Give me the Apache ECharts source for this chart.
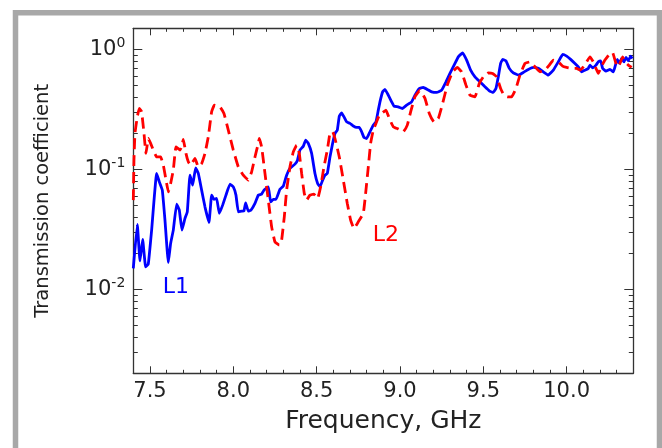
<!DOCTYPE html>
<html><head><meta charset="utf-8">
<script src="https://cdn.jsdelivr.net/npm/echarts@6/dist/echarts.min.js"></script>
<style>html,body{margin:0;padding:0;background:#fff}#c{width:662px;height:448px}</style>
</head><body><div id="c"></div>
<script>
// ---- data ----
const l1Freq = [7.400,7.424,7.440,7.456,7.474,7.490,7.510,7.540,7.556,7.574,
7.590,7.610,7.624,7.640,7.660,7.676,7.692,7.710,7.724,7.740,
7.756,7.774,7.790,7.810,7.830,7.854,7.870,7.884,7.900,7.916,
7.936,7.956,7.980,8.000,8.016,8.030,8.050,8.064,8.074,8.090,
8.106,8.130,8.150,8.170,8.184,8.210,8.224,8.240,8.256,8.280,
8.300,8.320,8.340,8.370,8.384,8.400,8.420,8.434,8.450,8.470,
8.490,8.506,8.520,8.536,8.550,8.564,8.580,8.596,8.610,8.624,
8.636,8.650,8.664,8.680,8.700,8.720,8.740,8.756,8.770,8.784,
8.800,8.820,8.840,8.856,8.870,8.880,8.896,8.910,8.930,8.950,
8.964,8.990,9.014,9.040,9.070,9.090,9.116,9.140,9.164,9.190,
9.220,9.250,9.276,9.300,9.330,9.350,9.376,9.400,9.424,9.450,
9.480,9.510,9.536,9.560,9.576,9.590,9.604,9.616,9.636,9.656,
9.680,9.710,9.740,9.770,9.800,9.830,9.860,9.890,9.920,9.950,
9.976,10.000,10.024,10.050,10.070,10.090,10.110,10.130,10.140,10.156,
10.176,10.190,10.204,10.216,10.236,10.260,10.280,10.290,10.304,10.316,
10.330,10.344,10.356,10.370,10.384,10.394];
const l1Val = [0.0150,0.0348,0.0173,0.0261,0.0154,0.0163,0.0312,0.0926,0.0788,0.0672,
0.0378,0.0167,0.0242,0.0312,0.0514,0.0458,0.0312,0.0391,0.0443,0.0896,
0.0740,0.1031,0.0926,0.0672,0.0488,0.0362,0.0611,0.0562,0.0573,0.0430,
0.0504,0.0611,0.0754,0.0716,0.0611,0.0443,0.0449,0.0452,0.0527,0.0449,
0.0458,0.0521,0.0611,0.0623,0.0672,0.0716,0.0537,0.0562,0.0562,0.0685,
0.0726,0.0896,0.1019,0.1107,0.118,0.145,0.156,0.175,0.165,0.136,
0.0926,0.0764,0.0716,0.0814,0.0896,0.0926,0.127,0.165,0.1995,0.2126,
0.278,0.296,0.274,0.249,0.242,0.230,0.224,0.224,0.206,0.185,
0.181,0.206,0.234,0.249,0.312,0.366,0.443,0.464,0.416,0.366,
0.337,0.332,0.322,0.343,0.366,0.416,0.473,0.482,0.464,0.443,
0.438,0.458,0.537,0.631,0.764,0.868,0.937,0.815,0.672,0.591,
0.537,0.488,0.452,0.438,0.473,0.591,0.764,0.826,0.804,0.695,
0.638,0.611,0.643,0.681,0.708,0.695,0.651,0.611,0.672,0.788,
0.908,0.879,0.826,0.764,0.716,0.651,0.672,0.695,0.740,0.703,
0.740,0.788,0.804,0.695,0.659,0.681,0.651,0.716,0.826,0.764,
0.841,0.788,0.858,0.804,0.879,0.841];

const l2Freq = [7.400,7.404,7.410,7.424,7.436,7.450,7.464,7.476,7.490,7.504,
7.520,7.540,7.564,7.580,7.600,7.610,7.624,7.640,7.656,7.680,
7.690,7.700,7.716,7.730,7.744,7.770,7.790,7.810,7.830,7.850,
7.870,7.886,7.920,7.944,7.970,8.000,8.030,8.060,8.090,8.110,
8.130,8.150,8.156,8.170,8.190,8.210,8.230,8.250,8.276,8.290,
8.306,8.320,8.340,8.360,8.380,8.396,8.410,8.426,8.440,8.460,
8.484,8.506,8.524,8.544,8.564,8.580,8.596,8.610,8.636,8.660,
8.684,8.704,8.724,8.750,8.780,8.796,8.810,8.824,8.840,8.856,
8.876,8.890,8.916,8.936,8.960,8.990,9.020,9.044,9.064,9.090,
9.120,9.150,9.176,9.204,9.230,9.256,9.284,9.316,9.344,9.370,
9.396,9.420,9.450,9.476,9.500,9.530,9.556,9.580,9.604,9.624,
9.644,9.670,9.696,9.720,9.750,9.780,9.810,9.840,9.870,9.896,
9.920,9.950,9.976,10.000,10.030,10.060,10.080,10.100,10.120,10.140,
10.160,10.176,10.190,10.210,10.230,10.260,10.276,10.290,10.304,10.320,
10.336,10.350,10.370,10.390];
const l2Val = [0.0555,0.120,0.200,0.274,0.322,0.302,0.200,0.136,0.181,0.165,
0.145,0.127,0.127,0.1086,0.0764,0.0651,0.0764,0.0987,0.154,0.145,
0.154,0.178,0.136,0.1157,0.1086,0.1236,0.105,0.112,0.136,0.187,
0.302,0.343,0.332,0.293,0.2126,0.145,0.105,0.0896,0.0814,0.0955,
0.127,0.165,0.181,0.154,0.0926,0.0555,0.0332,0.0249,0.0234,0.0258,
0.0403,0.0672,0.105,0.140,0.159,0.136,0.0926,0.0631,0.0555,0.0611,
0.0623,0.0573,0.0716,0.105,0.145,0.1995,0.206,0.181,0.127,0.0814,
0.0521,0.0378,0.0322,0.0366,0.0430,0.0672,0.105,0.165,0.2126,0.242,
0.2835,0.293,0.312,0.266,0.2265,0.217,0.206,0.234,0.302,0.403,
0.458,0.391,0.293,0.249,0.266,0.355,0.504,0.651,0.708,0.651,
0.504,0.416,0.403,0.521,0.591,0.638,0.631,0.591,0.473,0.416,
0.403,0.403,0.473,0.611,0.764,0.788,0.716,0.651,0.672,0.740,
0.815,0.788,0.726,0.708,0.695,0.695,0.672,0.716,0.788,0.868,
0.788,0.695,0.631,0.726,0.815,0.926,0.937,0.815,0.716,0.764,
0.868,0.788,0.740,0.708];

const xMin = 7.4, xMax = 10.4;
const yMin = 0.002, yMax = 1.5;
const xTickValues = [7.5, 8.0, 8.5, 9.0, 9.5, 10.0];
const xTickLabels = ['7.5', '8.0', '8.5', '9.0', '9.5', '10.0'];
const yDecadeExponents = [-2, -1, 0];
const annotations = [
  { text: 'L1', freq: 7.656, value: 0.01045, color: '#0000ff' },
  { text: 'L2', freq: 8.916, value: 0.02835, color: '#ff0000' }
];

// ---- ticks ----
const xMinor = [];
for (let i = 75; i <= 103; i++) { if (i % 5 !== 0) xMinor.push(i / 10); }
const lMin = Math.log10(yMin), lMax = Math.log10(yMax);
const yMajorLog = yDecadeExponents.slice();
const yMinorLog = [];
for (let d = -3; d <= 0; d++) {
  for (let m = 2; m <= 9; m++) {
    const v = m * Math.pow(10, d);
    if (v > yMin * 1.0001 && v < yMax) yMinorLog.push(Math.log10(v));
  }
}

const TXT = '#222';
const AX = '#333';
const FONT = 'DejaVu Sans';

function xAx(pos, vals, len, showLine, withLabels) {
  const a = {
    type: 'value', position: pos, min: xMin, max: xMax,
    splitLine: { show: false },
    axisLine: { show: showLine, onZero: false, lineStyle: { color: AX, width: 1.3 } },
    axisTick: { show: true, inside: true, length: len, customValues: vals, lineStyle: { color: AX, width: 1 } },
    axisLabel: { show: false }
  };
  if (withLabels) {
    a.axisLabel = {
      show: true, customValues: xTickValues, margin: 8,
      formatter: v => xTickLabels[xTickValues.findIndex(t => Math.abs(t - v) < 1e-6)] || '',
      fontFamily: FONT, fontSize: 21, color: TXT
    };
    a.name = 'Frequency, GHz';
    a.nameLocation = 'middle';
    a.nameGap = 36;
    a.nameTextStyle = { fontFamily: FONT, fontSize: 25, color: TXT };
  }
  return a;
}
function yAx(pos, vals, len, showLine, withLabels) {
  const a = {
    type: 'value', position: pos, min: lMin, max: lMax,
    splitLine: { show: false },
    axisLine: { show: showLine, onZero: false, lineStyle: { color: AX, width: 1.3 } },
    axisTick: { show: true, inside: true, length: len, customValues: vals, lineStyle: { color: AX, width: 1 } },
    axisLabel: { show: false }
  };
  if (withLabels) {
    a.axisLabel = {
      show: true, customValues: yMajorLog, margin: 8,
      formatter: v => '{b|10}{s|' + Math.round(v) + '}',
      rich: {
        b: { fontFamily: FONT, fontSize: 21, lineHeight: 26, color: TXT },
        s: { fontFamily: FONT, fontSize: 14, lineHeight: 14, verticalAlign: 'top', color: TXT }
      }
    };
    a.name = 'Transmission coefficient';
    a.nameLocation = 'middle';
    a.nameGap = 80;
    a.nameTextStyle = { fontFamily: FONT, fontSize: 19.5, color: TXT };
  }
  return a;
}

const chart = echarts.init(document.getElementById('c'), null, { renderer: 'canvas' });
const zip = (a, b) => a.map((x, i) => [x, b[i]]);

chart.setOption({
  animation: false,
  backgroundColor: '#fff',
  grid: { left: 133.3, right: 28.7, top: 28.3, bottom: 74.7, containLabel: false },
  xAxis: [
    xAx('bottom', xTickValues, 7, true, true),
    xAx('bottom', xMinor, 3.5, false, false),
    xAx('top', xTickValues, 7, true, false),
    xAx('top', xMinor, 3.5, false, false)
  ],
  yAxis: [
    { type: 'log', min: yMin, max: yMax, show: false, splitLine: { show: false } },
    yAx('left', yMajorLog, 9, true, true),
    yAx('left', yMinorLog, 4.5, false, false),
    yAx('right', yMajorLog, 9, true, false),
    yAx('right', yMinorLog, 4.5, false, false)
  ],
  series: [
    {
      name: 'L1', type: 'line', xAxisIndex: 0, yAxisIndex: 0,
      data: zip(l1Freq, l1Val), showSymbol: false, symbol: 'none', smooth: 0.1,
      lineStyle: { color: '#0000ff', width: 2.8 }, z: 3
    },
    {
      name: 'L2', type: 'line', xAxisIndex: 0, yAxisIndex: 0,
      data: zip(l2Freq, l2Val), showSymbol: false, symbol: 'none', smooth: 0.1,
      lineStyle: { color: '#ff0000', width: 2.8, type: [11, 6] }, z: 4
    }
  ]
});

const g = [{
  type: 'rect', z: 100, silent: true,
  shape: { x: 15.5, y: 12.75, width: 644, height: 500 },
  style: { fill: 'none', stroke: '#a8a8a8', lineWidth: 5.5 }
}];
annotations.forEach(a => {
  const p = chart.convertToPixel({ xAxisIndex: 0, yAxisIndex: 0 }, [a.freq, a.value]);
  g.push({
    type: 'text', x: p[0], y: p[1], z: 10,
    style: { text: a.text, fill: a.color, font: '22px "DejaVu Sans"', align: 'center', verticalAlign: 'middle' }
  });
});
chart.setOption({ graphic: g });
</script></body></html>
